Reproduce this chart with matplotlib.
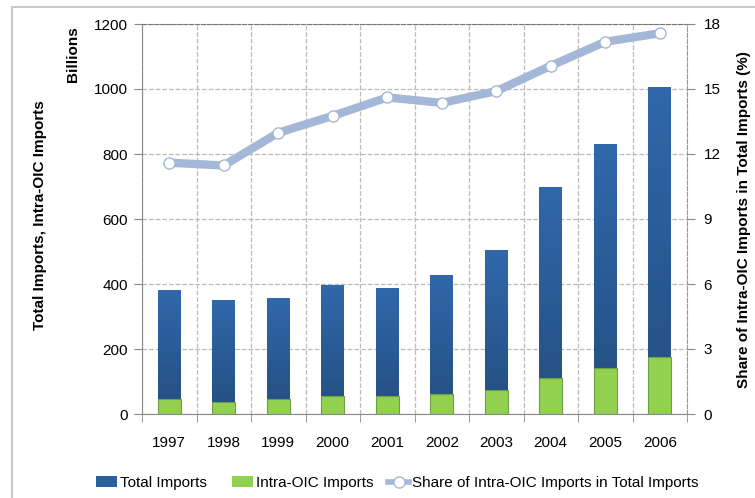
import numpy as np
import matplotlib.pyplot as plt
from matplotlib.patches import Rectangle, Patch
from matplotlib.lines import Line2D

plt.rcParams['font.family'] = ['Liberation Sans Narrow', 'Liberation Sans', 'DejaVu Sans']

# data
years = ['1997', '1998', '1999', '2000', '2001', '2002', '2003', '2004', '2005', '2006']
total_imports = [383, 350, 356, 397, 387, 428, 504, 698, 830, 1006]
intra_oic = [45, 38, 45, 55, 56, 61, 75, 111, 142, 175]
share_pct = [11.6, 11.47, 12.98, 13.76, 14.61, 14.36, 14.9, 16.07, 17.18, 17.57]

fig = plt.figure(figsize=(7.55, 4.98), dpi=100)
ax = fig.add_axes([142/755, 1 - 414/498, 545/755, 390/498])
ax2 = ax.twinx()

x = np.arange(len(years))
w = 0.42

# total bars with a vertical gradient
bars = ax.bar(x, total_imports, width=w, color='#2c5f9e', zorder=2)
grad = np.linspace(0, 1, 256).reshape(-1, 1)
cmap = plt.matplotlib.colors.LinearSegmentedColormap.from_list('g', ['#244e80', '#3068ab'])
for b in bars:
    im = ax.imshow(grad, cmap=cmap, aspect='auto', origin='lower',
                   extent=[b.get_x(), b.get_x() + b.get_width(), 0, b.get_height()], zorder=2)
    im.set_clip_path(b)
ax.bar(x, intra_oic, width=w, color='#92d050', edgecolor='#6fa048', linewidth=0.8, zorder=3)

ax.set_xlim(-0.5, 9.5)
ax.set_ylim(0, 1200)
ax.set_yticks(range(0, 1201, 200))
ax.set_xticks(x)
ax.set_xticklabels(years)
ax.set_xticks(np.arange(-0.5, 10, 1), minor=True)
ax.tick_params(axis='x', which='major', length=0, pad=16, labelsize=11)
ax.tick_params(axis='x', which='minor', length=6, color='#888888')
ax.tick_params(axis='y', length=6, color='#888888', labelsize=11, pad=4)
ax.grid(True, axis='y', linestyle='--', color='#bbbbbb', linewidth=0.9, zorder=0)
ax.grid(True, axis='x', which='minor', linestyle='--', color='#bbbbbb', linewidth=0.9, zorder=0)
ax.set_axisbelow(True)

for s in ['left', 'bottom']:
    ax.spines[s].set_color('#888888')
ax.spines['top'].set_color('#777777')
ax.spines['top'].set_linestyle('--')
ax.spines['right'].set_visible(False)

ax2.plot(x, share_pct, color='#a4b7d6', linewidth=6, marker='o', markersize=8,
         markerfacecolor='white', markeredgecolor='#a4b7d6', markeredgewidth=1, zorder=5,
         solid_capstyle='butt')
ax2.set_ylim(0, 18)
ax2.set_yticks(range(0, 19, 3))
ax2.tick_params(axis='y', length=6, color='#888888', labelsize=11, pad=6)
for s in ['left', 'bottom', 'top']:
    ax2.spines[s].set_visible(False)
ax2.spines['right'].set_color('#999999')
ax2.spines['right'].set_linestyle('--')

fig.text(40/755, 1 - 215/498, 'Total Imports, Intra-OIC Imports', rotation=90,
         ha='center', va='center', fontsize=11, fontweight='bold')
fig.text(73/755, 1 - 54/498, 'Billions', rotation=90,
         ha='center', va='center', fontsize=11, fontweight='bold')
fig.text(744/755, 1 - 220/498, 'Share of Intra-OIC Imports in Total Imports (%)', rotation=90,
         ha='center', va='center', fontsize=11, fontweight='bold')

# legend: three separate entries placed like the reference
handles = [Patch(facecolor='#2c5f9e'), Patch(facecolor='#92d050'),
           Line2D([], [], color='#a4b7d6', linewidth=4, marker='o', markersize=8,
                  markerfacecolor='white', markeredgecolor='#a4b7d6')]
labels = ['Total Imports', 'Intra-OIC Imports', 'Share of Intra-OIC Imports in Total Imports']
leg_x = [96, 232, 388]
for h, l, lx in zip(handles, labels, leg_x):
    fig.legend([h], [l], loc='center left', bbox_to_anchor=(lx/755, 1 - 483/498),
               frameon=False, fontsize=11, handlelength=1.4, handletextpad=0.2,
               borderpad=0, borderaxespad=0)

fig.patches.append(Rectangle((12/755, -0.1), 1.2, 1 - 7/498 + 0.1, transform=fig.transFigure,
                             fill=False, edgecolor='#c8c8c8', linewidth=1.5))

fig.savefig('out.png', dpi=100)
